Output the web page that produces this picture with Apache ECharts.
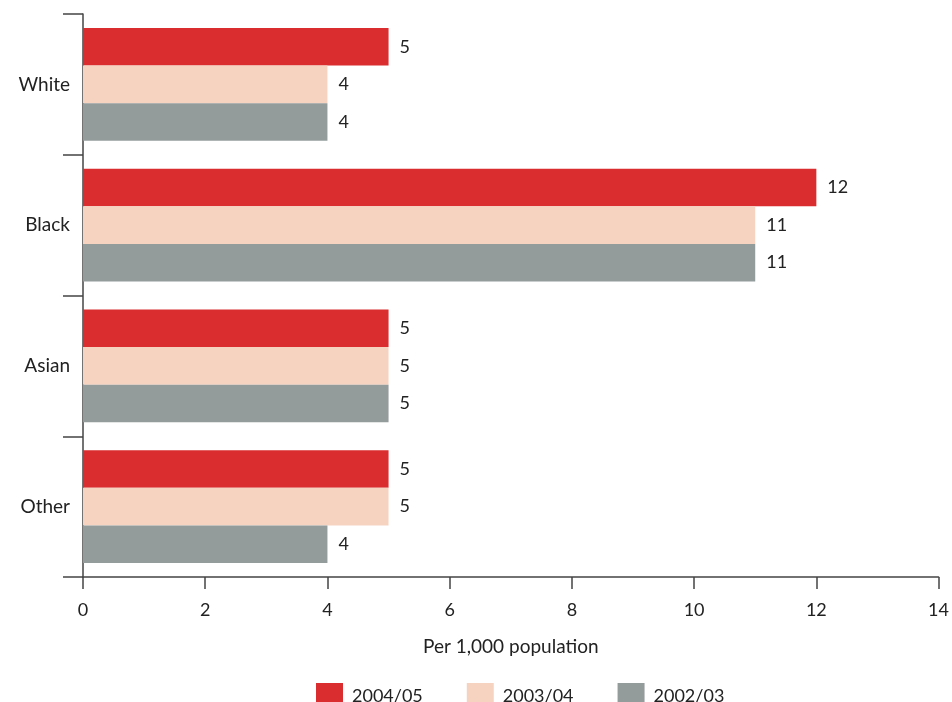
<!DOCTYPE html>
<html>
<head>
<meta charset="utf-8">
<script src="https://cdn.jsdelivr.net/npm/echarts@6/dist/echarts.min.js"></script>
<style>html,body{margin:0;padding:0;background:#fff}#c{width:952px;height:702px}</style>
</head>
<body>
<div id="c"></div>
<script>
const categories = ['White', 'Black', 'Asian', 'Other'];
const seriesNames = ['2004/05', '2003/04', '2002/03'];
const values2004 = [5, 12, 5, 5];
const values2003 = [4, 11, 5, 5];
const values2002 = [4, 11, 5, 4];
const xTicks = [0, 2, 4, 6, 8, 10, 12, 14];
const axisTitle = 'Per 1,000 population';

const colors = ['#d92d2f', '#f6d3c1', '#949b9b'];
const font = 'Lato, "Open Sans", sans-serif';
const allValues = [values2004, values2003, values2002];

const chart = echarts.init(document.getElementById('c'), null, {renderer: 'canvas'});
chart.setOption({
  animation: false,
  color: colors,
  textStyle: {fontFamily: font},
  grid: {left: 83, right: 13, top: 14, bottom: 125, containLabel: false},
  legend: {
    top: 678, left: 311,
    itemWidth: 27, itemHeight: 27, itemGap: 44,
    icon: 'rect',
    data: seriesNames,
    textStyle: {fontSize: 18, color: '#222', fontFamily: font, padding: [0, 0, 0, 4]}
  },
  xAxis: {
    type: 'value', min: xTicks[0], max: xTicks[xTicks.length - 1], interval: 2,
    name: axisTitle, nameLocation: 'middle', nameGap: 60,
    nameTextStyle: {fontSize: 19, color: '#222', fontFamily: font},
    axisLine: {show: true, lineStyle: {color: '#444', width: 1.5}},
    axisTick: {show: true, length: 12, lineStyle: {color: '#444', width: 1.5}},
    axisLabel: {fontSize: 18, color: '#222', margin: 24, fontFamily: font},
    splitLine: {show: false}
  },
  yAxis: {
    type: 'category', data: categories, inverse: true,
    axisLine: {show: true, lineStyle: {color: '#444', width: 1.5}},
    axisTick: {show: true, length: 20, lineStyle: {color: '#444', width: 1.5}},
    axisLabel: {fontSize: 19, color: '#222', margin: 13, fontFamily: font}
  },
  series: seriesNames.map((n, i) => ({
    name: n, type: 'bar', data: allValues[i],
    barGap: '0%', barCategoryGap: '20%',
    label: {show: true, position: 'right', distance: 11, fontSize: 18, color: '#222', fontFamily: font}
  }))
});
</script>
</body>
</html>
